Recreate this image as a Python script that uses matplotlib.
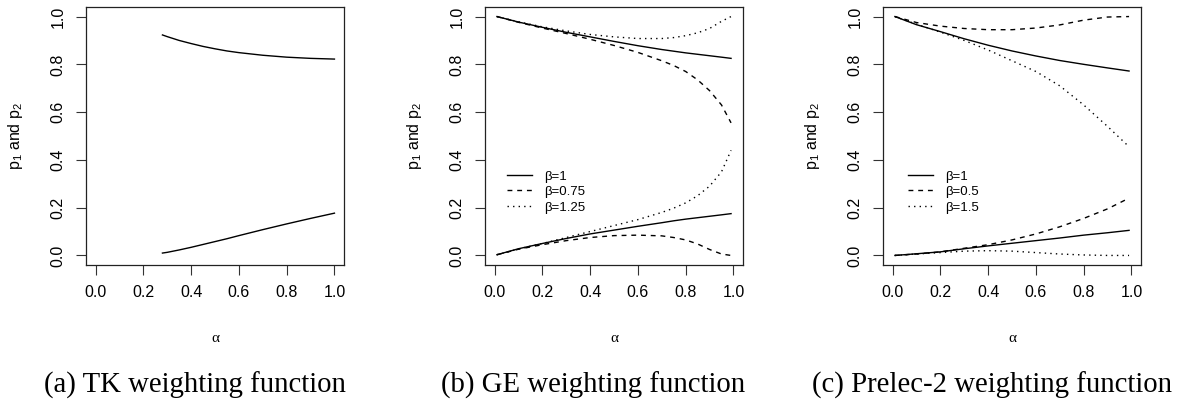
import numpy as np
import matplotlib
matplotlib.use("Agg")
import matplotlib.pyplot as plt

plt.rcParams['font.family'] = ['Liberation Sans', 'DejaVu Sans']
plt.rcParams['mathtext.fontset'] = 'custom'
plt.rcParams['mathtext.rm'] = 'Liberation Sans'
plt.rcParams['mathtext.it'] = 'Liberation Sans'

# (a) TK weighting function
tk_alpha = [0.28, 0.3, 0.35, 0.4, 0.45, 0.5, 0.55, 0.6, 0.7, 0.8, 0.9, 1.0]
tk_p1 = [0.923, 0.916, 0.900, 0.887, 0.875, 0.865, 0.856, 0.849, 0.838, 0.830, 0.825, 0.822]
tk_p2 = [0.010, 0.013, 0.023, 0.034, 0.046, 0.058, 0.070, 0.083, 0.108, 0.132, 0.155, 0.177]

# (b) GE weighting function
ge_alpha = [0.01, 0.1, 0.2, 0.3, 0.4, 0.5, 0.6, 0.7, 0.75, 0.8, 0.85, 0.9, 0.95, 0.99]
ge_p1_b1 = [1.0, 0.977, 0.955, 0.934, 0.915, 0.896, 0.878, 0.862, 0.855, 0.848, 0.842, 0.836, 0.830, 0.825]
ge_p2_b1 = [0.003, 0.028, 0.050, 0.071, 0.090, 0.106, 0.122, 0.137, 0.145, 0.152, 0.158, 0.164, 0.170, 0.175]
ge_p1_b075 = [1.0, 0.976, 0.952, 0.929, 0.905, 0.879, 0.850, 0.815, 0.795, 0.770, 0.735, 0.690, 0.630, 0.555]
ge_p2_b075 = [0.003, 0.026, 0.045, 0.062, 0.075, 0.083, 0.085, 0.082, 0.075, 0.065, 0.048, 0.025, 0.006, 0.0]
ge_p1_b125 = [1.0, 0.978, 0.957, 0.940, 0.925, 0.915, 0.908, 0.908, 0.912, 0.920, 0.932, 0.950, 0.980, 1.0]
ge_p2_b125 = [0.003, 0.027, 0.050, 0.075, 0.100, 0.125, 0.150, 0.180, 0.198, 0.220, 0.250, 0.290, 0.350, 0.440]

# (c) Prelec-2 weighting function
pr_alpha = [0.01, 0.1, 0.2, 0.3, 0.4, 0.5, 0.6, 0.7, 0.8, 0.9, 0.99]
pr_p1_b1 = [1.0, 0.966, 0.937, 0.907, 0.880, 0.856, 0.835, 0.816, 0.800, 0.785, 0.772]
pr_p2_b1 = [0.0, 0.007, 0.015, 0.028, 0.040, 0.051, 0.062, 0.073, 0.085, 0.095, 0.105]
pr_p1_b05 = [1.0, 0.975, 0.960, 0.950, 0.945, 0.945, 0.952, 0.965, 0.985, 0.998, 1.0]
pr_p2_b05 = [0.0, 0.006, 0.015, 0.030, 0.045, 0.065, 0.090, 0.120, 0.155, 0.195, 0.240]
pr_p1_b15 = [1.0, 0.968, 0.935, 0.900, 0.860, 0.815, 0.770, 0.710, 0.630, 0.540, 0.455]
pr_p2_b15 = [0.0, 0.006, 0.012, 0.018, 0.020, 0.018, 0.012, 0.006, 0.002, 0.0, 0.0]

ticks = [0.0, 0.2, 0.4, 0.6, 0.8, 1.0]
captions = ["(a) TK weighting function", "(b) GE weighting function",
            "(c) Prelec-2 weighting function"]
caption_x = [195, 593, 992]
ge_labels = ["β=1", "β=0.75", "β=1.25"]
pr_labels = ["β=1", "β=0.5", "β=1.5"]

W, H = 1177, 401
fig = plt.figure(figsize=(W / 100, H / 100), dpi=100)

lefts = [86, 485, 883]
styles = ['-', (0, (3.5, 3.5)), (0, (1, 3))]

axes = []
for left in lefts:
    ax = fig.add_axes([left / W, (H - 265) / H, 258 / W, 258 / H])
    ax.set_xlim(-0.04, 1.04)
    ax.set_ylim(-0.04, 1.04)
    ax.set_xticks(ticks)
    ax.set_yticks(ticks)
    ax.set_xticklabels([f"{t:.1f}" for t in ticks])
    ax.set_yticklabels([f"{t:.1f}" for t in ticks], rotation=90, va='center')
    ax.tick_params(direction='out', length=7.5, width=0.8, labelsize=11.5,
                   color='#333333', pad=7)
    for s in ax.spines.values():
        s.set_color('#222222')
        s.set_linewidth(0.9)
    ax.set_xlabel("α", family='Liberation Serif', fontsize=11)
    ax.xaxis.set_label_coords(0.5, -0.285)
    ax.xaxis.label.set_va('center')
    ax.set_ylabel("p$_1$ and p$_2$", fontsize=11.5)
    ax.yaxis.set_label_coords(-0.273, 0.5)
    ax.yaxis.label.set_va('center')
    axes.append(ax)

ax = axes[0]
ax.plot(tk_alpha, tk_p1, color='black', lw=1)
ax.plot(tk_alpha, tk_p2, color='black', lw=1)

ax = axes[1]
ge_up = [ge_p1_b1, ge_p1_b075, ge_p1_b125]
ge_lo = [ge_p2_b1, ge_p2_b075, ge_p2_b125]
for up, lo, ls, lab in zip(ge_up, ge_lo, styles, ge_labels):
    ax.plot(ge_alpha, up, color='black', lw=1, linestyle=ls, label=lab)
    ax.plot(ge_alpha, lo, color='black', lw=1, linestyle=ls)
ax.legend(loc='center left', bbox_to_anchor=(0.085, 0.283), frameon=False,
          fontsize=9.5, borderpad=0, borderaxespad=0, handlelength=1.9,
          handletextpad=0.9, labelspacing=0.25)

ax = axes[2]
pr_up = [pr_p1_b1, pr_p1_b05, pr_p1_b15]
pr_lo = [pr_p2_b1, pr_p2_b05, pr_p2_b15]
for up, lo, ls, lab in zip(pr_up, pr_lo, styles, pr_labels):
    ax.plot(pr_alpha, up, color='black', lw=1, linestyle=ls, label=lab)
    ax.plot(pr_alpha, lo, color='black', lw=1, linestyle=ls)
ax.legend(loc='center left', bbox_to_anchor=(0.097, 0.283), frameon=False,
          fontsize=9.5, borderpad=0, borderaxespad=0, handlelength=1.9,
          handletextpad=0.9, labelspacing=0.25)

for cx, cap in zip(caption_x, captions):
    fig.text(cx / W, 1 - 385 / H, cap, family='Liberation Serif', fontsize=20.7,
             ha='center', va='center')

fig.savefig("out.png", dpi=100)
